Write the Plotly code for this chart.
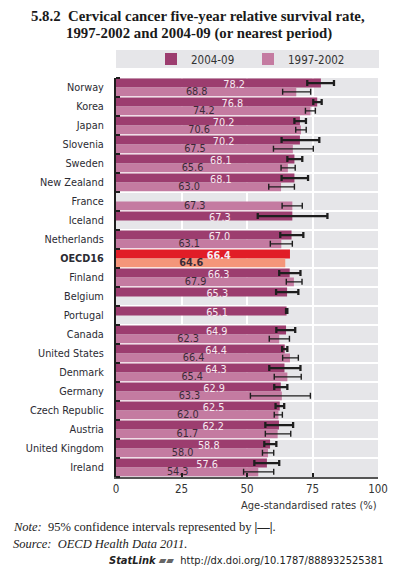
import plotly.graph_objects as go

countries = ["Norway", "Korea", "Japan", "Slovenia", "Sweden", "New Zealand", "France",
             "Iceland", "Netherlands", "OECD16", "Finland", "Belgium", "Portugal", "Canada",
             "United States", "Denmark", "Germany", "Czech Republic", "Austria",
             "United Kingdom", "Ireland"]
v2004 = [78.2, 76.8, 70.2, 70.2, 68.1, 68.1, None, 67.3, 67.0, 66.4, 66.3, 65.3, 65.1,
         64.9, 64.4, 64.3, 62.9, 62.5, 62.2, 58.8, 57.6]
v1997 = [68.8, 74.2, 70.6, 67.5, 65.6, 63.0, 67.3, None, 63.1, 64.6, 67.9, None, None,
         62.3, 66.4, 65.4, 63.3, 62.0, 61.7, 58.0, 54.3]
lo2004 = [73.0, 75.3, 68.1, 63.2, 65.4, 63.2, None, 54.1, 62.7, None, 62.3, 61.1, 64.9,
          61.2, 63.4, 58.5, 60.4, 60.9, 57.0, 56.6, 52.8]
hi2004 = [83.2, 78.5, 72.5, 77.6, 71.1, 73.3, None, 80.7, 71.5, None, 70.4, 69.6, 65.4,
          68.4, 65.4, 70.4, 65.4, 64.2, 67.6, 61.2, 62.3]
lo1997 = [63.6, 72.3, 68.6, 60.1, 63.0, 58.3, 63.4, None, 58.9, None, 65.0, None, None,
          58.5, 63.6, 60.4, 51.3, 60.4, 57.0, 55.9, 48.7]
hi1997 = [74.3, 76.1, 72.6, 75.3, 68.4, 68.1, 71.1, None, 67.3, None, 71.0, None, None,
          66.2, 69.6, 70.7, 74.2, 63.5, 66.7, 60.2, 60.2]
x_ticks = [0, 25, 50, 75, 100]
highlight = "OECD16"

C_DARK = "#9c3d6f"
C_LIGHT = "#c47ba1"
C_RED = "#e11d27"
C_SALMON = "#f4967a"
BG = "#e6e6e9"
SANS = "Liberation Sans Narrow, Arial Narrow, DejaVu Sans Condensed, sans-serif"
SERIF = "Liberation Serif, DejaVu Serif, serif"

idx = list(range(len(countries)))
normal = [i for i in idx if countries[i] != highlight]
hl = [i for i in idx if countries[i] == highlight]


def err(vals, lo, hi, ids):
    plus, minus = [], []
    for i in ids:
        if vals[i] is None or lo[i] is None:
            plus.append(None); minus.append(None)
        else:
            plus.append(round(hi[i] - vals[i], 2)); minus.append(round(vals[i] - lo[i], 2))
    return plus, minus


fig = go.Figure()

series = [
    ("2004-09", v2004, lo2004, hi2004, C_DARK, C_RED, -0.47, 0.47, 2.3),
    ("1997-2002", v1997, lo1997, hi1997, C_LIGHT, C_SALMON, 0.0, 0.46, 1.4),
]
for name, vals, lo, hi, col, hcol, off, wid, ethick in series:
    plus, minus = err(vals, lo, hi, normal)
    fig.add_trace(go.Bar(
        name=name, orientation="h",
        x=[vals[i] for i in normal], y=normal,
        offset=off, width=wid,
        marker=dict(color=col, line=dict(width=0)),
        error_x=dict(type="data", symmetric=False, array=plus, arrayminus=minus,
                     color="#1e1e1e", thickness=ethick, width=3),
        hoverinfo="skip",
    ))
    fig.add_trace(go.Bar(
        name=name, orientation="h", showlegend=False,
        x=[vals[i] for i in hl], y=hl,
        offset=off, width=wid,
        marker=dict(color=hcol, line=dict(width=0)),
        hoverinfo="skip",
    ))

# value labels
lab2004 = [i for i in idx if v2004[i] is not None]
lab1997 = [i for i in idx if v1997[i] is not None]
fig.add_trace(go.Scatter(
    x=[v2004[i] / 2 + 6 for i in lab2004], y=[i - 0.12 for i in lab2004],
    mode="text", text=[("<b>%.1f</b>" if countries[i] == highlight else "%.1f") % v2004[i] for i in lab2004],
    textfont=dict(family=SANS, size=10.8, color="#f6ecf2"),
    showlegend=False, hoverinfo="skip"))
fig.add_trace(go.Scatter(
    x=[v1997[i] / 2 - 3.6 for i in lab1997], y=[i + 0.25 for i in lab1997],
    mode="text", text=[("<b>%.1f</b>" if countries[i] == highlight else "%.1f") % v1997[i] for i in lab1997],
    textfont=dict(family=SANS, size=10.8, color="#3b2a37"),
    showlegend=False, hoverinfo="skip"))

ticktext = [("<b>%s</b>" % c) if c == highlight else c for c in countries]

# the page body adds an 8px offset; figure sized to fit the 419x588 window
OFF = 8
W, H = 419 - OFF, 588 - OFF
PX0, PX1, PY0, PY1 = 116, 378, 78, 477          # plot area in page pixels
L, R, T, B = PX0 - OFF, W - (PX1 - OFF), PY0 - OFF, H - (PY1 - OFF)
pw, ph = PX1 - PX0, PY1 - PY0


def py(p):
    return (PY1 - p) / ph


def px(p):
    return (p - PX0) / pw


fig.update_layout(
    width=W, height=H,
    margin=dict(l=L, r=R, t=T, b=B, autoexpand=False),
    paper_bgcolor="white", plot_bgcolor=BG,
    barmode="overlay",
    font=dict(family=SANS, size=11, color="#333"),
    xaxis=dict(range=[0, 100], tickvals=x_ticks, ticks="inside", ticklen=4, tickwidth=2,
               tickcolor="#1e1e1e", showline=True, linecolor="#555", linewidth=1.5,
               showgrid=True, gridcolor="white", gridwidth=1.5, zeroline=False,
               tickfont=dict(family=SANS, size=11.5, color="#333")),
    yaxis=dict(range=[len(countries) - 0.5, -0.5], tickvals=idx, ticktext=ticktext,
               ticks="", showgrid=False, zeroline=False, showline=True,
               linecolor="#1e1e1e", linewidth=2, ticklabelstandoff=8,
               tickfont=dict(family=SANS, size=10.8, color="#2b2b33"),
               minor=dict(tickmode="linear", tick0=-0.5, dtick=1, ticks="inside",
                          ticklen=4, tickwidth=2, tickcolor="#1e1e1e",
                          showgrid=True, gridcolor="white", gridwidth=1.5)),
    legend=dict(orientation="h", x=px(151), xanchor="left", y=py(59), yanchor="middle",
                bgcolor="rgba(0,0,0,0)", font=dict(family=SANS, size=11.5, color="#333"),
                entrywidth=52, entrywidthmode="pixels", itemclick=False),
    showlegend=True,
)

fig.add_shape(type="rect", xref="paper", yref="paper", x0=0, x1=px(379),
              y0=py(68), y1=py(50), fillcolor=BG, line=dict(width=0), layer="below")

title_lines = ["5.8.2&nbsp; Cervical cancer five-year relative survival rate,",
               "1997-2002 and 2004-09 (or nearest period)"]
for line, (cx, cy) in zip(title_lines, [(198, 16), (198.5, 33)]):
    fig.add_annotation(
        text=line, xref="paper", yref="paper", x=px(cx), y=py(cy),
        xanchor="center", yanchor="middle", showarrow=False,
        font=dict(family=SERIF, size=14.8, color="#1a1a1a", weight="bold"))
fig.add_annotation(text="Age-standardised rates (%)", xref="paper", yref="paper",
                   x=px(379), y=py(505), xanchor="right", yanchor="middle", showarrow=False,
                   font=dict(family=SANS, size=11, color="#333"))
fig.add_annotation(text="<i>Note:</i>  95% confidence intervals represented by <b>|—|</b>.",
                   xref="paper", yref="paper", x=px(11), y=py(527),
                   xanchor="left", yanchor="middle", showarrow=False,
                   font=dict(family=SERIF, size=12.5, color="#222"))
fig.add_annotation(text="<i>Source:  OECD Health Data 2011.</i>",
                   xref="paper", yref="paper", x=px(11), y=py(544),
                   xanchor="left", yanchor="middle", showarrow=False,
                   font=dict(family=SERIF, size=12.5, color="#222"))
fig.add_annotation(text="<b><i>StatLink</i></b> <span style='color:#666'>▰▰</span>  http://dx.doi.org/10.1787/888932525381",
                   xref="paper", yref="paper", x=px(385), y=py(560),
                   xanchor="right", yanchor="middle", showarrow=False,
                   font=dict(family=SANS, size=11, color="#222"))

fig.write_html("out.html")
